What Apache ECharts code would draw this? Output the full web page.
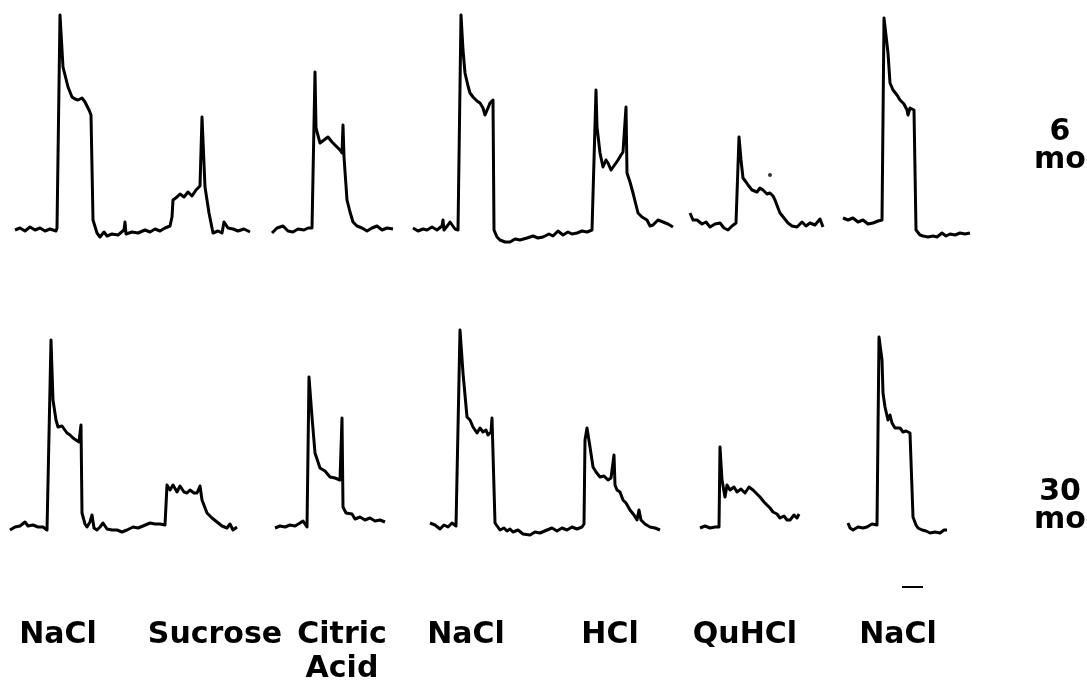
<!DOCTYPE html>
<html>
<head>
<meta charset="utf-8">
<script src="https://cdn.jsdelivr.net/npm/echarts@6/dist/echarts.min.js"></script>
<style>
  html, body { margin: 0; padding: 0; background: #fff; }
  #chart { width: 1087px; height: 683px; }
</style>
</head>
<body>
<div id="chart"></div>
<script>
// time (arbitrary units) vs. response (arbitrary units)
var top_NaCl_Sucrose = [[15,1],[20,2],[25,0.5],[30,2.5],[35,1],[40,2],[45,0.5],[50,1.5],[56,0.5],[57,2],
  [60,108.5],[63,82.5],[68,72.5],[72,67.5],[75,66.5],[78,66],[82,67],[85,65],[89,61],[91,58.5],
  [93,6],[97,-0.5],[100,-2.5],[104,0],[107,-2],[112,-1],[118,-1.5],[124,1],[125,5],[126,-1],[132,0],
  [138,-0.5],[145,1],[150,0],[155,1.5],[160,0.5],[165,2],[170,3],
  [172,7.5],[173,16],[177,17.5],[180,19],[184,17.5],[188,20],[192,18],[196,21],[200,23],[202,57.5],
  [205,22.5],[209,9.5],[213,-0.5],[218,0.5],[222,-0.5],[224,5],[228,2],[233,1.5],[238,0.5],[244,1.5],[250,0]];
var top_Citric = [[272,-0.5],[277,2],[283,3],[288,0.5],[293,0],[298,1.5],[304,1],[308,2],[312,2],
  [315,80],[316,52],[320,44.5],[324,46],[328,47.5],[332,45],[337,42.5],[340,41],[342,39.5],[343,53.5],
  [344,37.5],[347,16],[350,10],[353,5],[357,3],[362,2],[367,0.5],[372,2],[377,3],[382,1],[387,2],[393,1.5]];
var top_NaCl_HCl = [[413,2],[418,0.5],[423,1.5],[427,1],[432,2.5],[437,1],[442,3],[443,6],[444,1],[448,3.5],
  [450,5],[455,1.5],[458,1],[461,108.5],[463,91],[465,79.5],[468,73],[470,69.5],[473,67.5],[475,68.5],
  [477,65.5],[480,64.5],[483,62],[485,58.5],[488,62],[490,64.5],[493,66],[494,1],[497,-2.5],[500,-4],
  [505,-5],[510,-5],[515,-3.5],[520,-4],[527,-3],[533,-2],[538,-3],[543,-2.5],[549,-1],[553,-2],
  [558,0.5],[563,-1.5],[568,0],[572,-1],[577,-0.5],[582,0.5],[587,0],[592,1],
  [596,71],[597,52.5],[600,39.5],[603,32.5],[606,36],[608,34.5],[611,31],[613,30],[616,34.5],[618,36],
  [621,38.5],[623,40],[626,62.5],[627,29.5],[630,25],[633,19.5],[636,13.5],[638,9.5],[642,7.5],[647,6],
  [650,3],[653,3.5],[658,6],[663,5],[668,4],[673,2.5]];
var top_QuHCl = [[690,9.5],[693,6],[697,6],[702,4],[706,5],[710,2.5],[715,4],[720,4.5],[724,2],[728,1],
  [732,3],[736,4.5],[739,47.5],[741,36],[743,27],[746,25],[748,23.5],[752,21],[757,20],[760,22],[763,21],
  [767,19],[770,19.5],[773,18],[775,16],[778,12],[780,9.5],[784,7],[788,4.5],[792,3],[797,2.5],[802,5],
  [806,3],[810,4.5],[815,3.5],[820,6.5],[823,2.5]];
var top_QuHCl_dot = [[770,28.5]];
var top_NaCl_last = [[843,7],[848,6],[853,7],[858,5],[863,6],[868,4],[873,4.5],[878,5.5],[882,6],
  [884,107],[888,89.5],[890,74.5],[893,71],[897,68.5],[900,66],[904,64],[907,61],[908,58.5],[910,62],
  [912,62],[914,61],[916,1],[920,-1.5],[923,-2],[928,-2.5],[933,-2],[937,-2.5],[942,-0.5],[946,-2],
  [950,-1],[955,-1.5],[960,-0.5],[965,-1],[970,-0.5]];

var bot_NaCl_Sucrose = [[10,-1.5],[15,0],[20,0.5],[25,2.5],[28,0.5],[33,1],[38,0],[43,0],[47,-1.5],
  [51,93.5],[53,63.5],[56,53.5],[58,50],[62,50.5],[67,47],[70,46],[73,44.5],[76,43.5],[79,42.5],[81,51],
  [82,7],[85,1.5],[87,0],[90,2.5],[92,6],[94,-0.5],[97,-1.5],[100,0],[103,2],[107,-1],[112,-1.5],
  [117,-1.5],[122,-2.5],[127,-1.5],[133,0],[138,-0.5],[143,0.5],[150,2],[155,1.5],[160,1.5],[165,1],
  [167,21],[170,18.5],[173,21],[177,17.5],[180,20.5],[184,17.5],[187,17],[190,18.5],[194,17],[197,17],
  [200,20.5],[202,13.5],[207,7],[212,4.5],[217,2.5],[222,0.5],[227,-0.5],[230,1.5],[233,-1.5],[237,0]];
var bot_Citric = [[275,-0.5],[280,0.5],[285,0],[290,1],[295,0.5],[300,2],[303,3],[307,0],
  [309,75],[312,55],[315,37],[318,32.5],[320,29.5],[325,28],[330,25],[335,24.5],[340,23.5],[342,54.5],
  [343,10],[346,7],[348,6],[352,6.5],[355,4],[360,5],[365,3.5],[370,4.5],[375,3],[380,3.5],[385,2.5]];
var bot_NaCl_HCl = [[430,2],[435,1],[440,-1],[444,1],[448,0],[452,2],[456,0.5],[458,1],
  [460,98.5],[463,77],[465,66],[467,55],[470,53.5],[473,50],[475,51],[477,47],[480,49.5],[483,47.5],
  [486,48.5],[488,46],[491,47.5],[492,54.5],[495,2],[500,-1.5],[504,-0.5],[507,-2],[510,-1],[513,-2.5],
  [518,-1.5],[523,-3.5],[530,-4],[535,-2.5],[540,-3],[547,-1.5],[552,-0.5],[557,-2],[562,-0.5],
  [567,-1.5],[572,0],[577,-1],[582,0],[584,1.5],
  [585,43.5],[587,49.5],[590,40],[593,30],[596,27.5],[600,25],[604,25.5],[608,23.5],[611,24.5],
  [613,23.5],[614,36],[615,21],[617,18.5],[620,17.5],[623,13.5],[626,12],[630,8.5],[634,6],[637,3.5],
  [639,8.5],[641,3.5],[645,1.5],[650,0],[655,-0.5],[660,-1.5]];
var bot_QuHCl = [[700,-0.5],[705,0.5],[710,-0.5],[715,0],[719,0],[720,40],[722,23.5],[725,15],[727,21],
  [730,18.5],[734,20],[737,17.5],[741,19],[745,17],[749,20],[753,18.5],[757,16.5],[760,15],[764,12.5],
  [767,11],[770,9.5],[773,7.5],[777,6.5],[780,4.5],[784,5.5],[787,3.5],[790,3.5],[794,6],[797,4.5],[799,6.5]];
var bot_NaCl_last = [[848,2],[850,-0.5],[853,-1.5],[858,0],[863,-0.5],[867,0],[872,1.5],[877,1],
  [879,95],[882,83.5],[883,67],[885,60],[888,53.5],[890,56],[892,52],[895,49.5],[897,48.5],[900,49.5],
  [903,47.5],[906,48],[910,47],[913,5],[916,1],[918,-0.5],[922,-1.5],[926,-2],[930,-3],[935,-2.5],
  [940,-3],[944,-1.5],[947,-1.5]];

var stimuli = ['NaCl', 'Sucrose', 'Citric\nAcid', 'NaCl', 'HCl', 'QuHCl', 'NaCl'];
var stimulusTime = [58, 215, 342, 466, 610, 745, 898];
var ages = ['6\nmo', '30\nmo'];
var scaleBarTime = [902, 923];

var topTraces = [top_NaCl_Sucrose, top_Citric, top_NaCl_HCl, top_QuHCl, top_NaCl_last];
var botTraces = [bot_NaCl_Sucrose, bot_Citric, bot_NaCl_HCl, bot_QuHCl, bot_NaCl_last];

var chart = echarts.init(document.getElementById('chart'));

var series = [];
function addTrace(d, idx) {
  series.push({
    type: 'line', data: d, xAxisIndex: idx, yAxisIndex: idx,
    showSymbol: false, silent: true,
    lineStyle: { color: '#000', width: 3, join: 'round' }
  });
}
topTraces.forEach(function (d) { addTrace(d, 0); });
botTraces.forEach(function (d) { addTrace(d, 1); });
series.push({
  type: 'scatter', data: top_QuHCl_dot, xAxisIndex: 0, yAxisIndex: 0,
  symbolSize: 4, itemStyle: { color: '#000' }, silent: true
});

var axisX = { type: 'value', min: 0, max: 1087, show: false };
var axisY = { type: 'value', min: -10, max: 110, show: false };

chart.setOption({
  animation: false,
  backgroundColor: '#fff',
  grid: [
    { left: 0, width: 1087, top: 12, height: 240 },
    { left: 0, width: 1087, top: 307, height: 240 }
  ],
  xAxis: [Object.assign({ gridIndex: 0 }, axisX), Object.assign({ gridIndex: 1 }, axisX)],
  yAxis: [Object.assign({ gridIndex: 0 }, axisY), Object.assign({ gridIndex: 1 }, axisY)],
  series: series
});

// labels under the records and age labels on the right
var font = 'bold 30px "DejaVu Sans"';
var graphics = [];
stimuli.forEach(function (s, i) {
  var px = chart.convertToPixel({ xAxisIndex: 1 }, stimulusTime[i]);
  graphics.push({
    type: 'text',
    style: { text: s, x: px, y: 618, font: font, fill: '#000', align: 'center', verticalAlign: 'top', lineHeight: 34 }
  });
});
var ageY = [118, 478];
ages.forEach(function (a, i) {
  graphics.push({
    type: 'text',
    style: { text: a, x: 1060, y: ageY[i], font: font, fill: '#000', align: 'center', verticalAlign: 'top', lineHeight: 28 }
  });
});
var b0 = chart.convertToPixel({ xAxisIndex: 1 }, scaleBarTime[0]);
var b1 = chart.convertToPixel({ xAxisIndex: 1 }, scaleBarTime[1]);
graphics.push({
  type: 'line',
  shape: { x1: b0, y1: 587, x2: b1, y2: 587 },
  style: { stroke: '#000', lineWidth: 2 }
});
chart.setOption({ graphic: graphics });
</script>
</body>
</html>
